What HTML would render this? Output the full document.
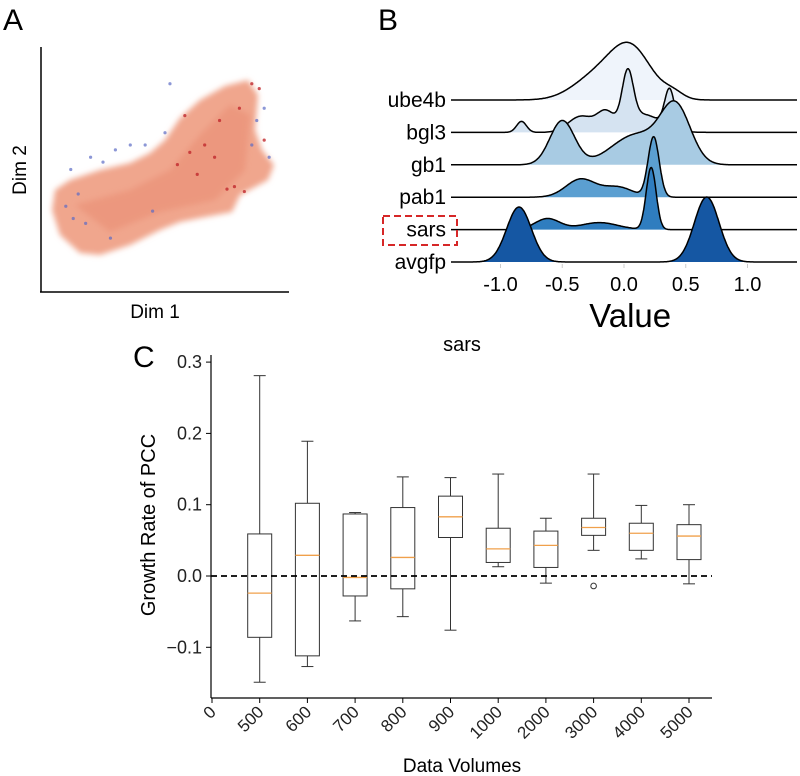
<!DOCTYPE html>
<html><head><meta charset="utf-8"><style>
body{margin:0;background:#fff;}
svg{display:block;font-family:"Liberation Sans",sans-serif;}
</style></head><body>
<svg id="fig" width="800" height="776" viewBox="0 0 800 776">
<defs><filter id="bl" x="-20%" y="-20%" width="140%" height="140%"><feGaussianBlur stdDeviation="3"/></filter></defs>
<g id="panelA">
<text x="3" y="30" font-size="30">A</text>
<path d="M55,190 L70,180 L100,170 L130,163 L150,153 L165,140 L180,118 L200,100 L225,86 L248,80 L258,95 L255,130 L262,150 L274,165 L268,180 L240,195 L232,212 L200,218 L180,222 L160,230 L130,245 L100,255 L80,253 L60,235 L52,210 Z" fill="#f0a68d" filter="url(#bl)"/>
<path d="M75,205 L130,190 L170,170 L200,135 L230,105 L250,115 L245,170 L215,200 L160,212 L110,232 Z" fill="#e98c72" opacity="0.55" filter="url(#bl)"/>
<g id="dots"></g>
<line x1="41" y1="47" x2="41" y2="292" stroke="#000" stroke-width="1.5"/>
<line x1="40" y1="292" x2="289" y2="292" stroke="#000" stroke-width="1.5"/>
<text x="155" y="318" font-size="19" text-anchor="middle">Dim 1</text>
<text transform="translate(26,170) rotate(-90)" font-size="19" text-anchor="middle">Dim 2</text>
</g>
<g id="panelB">
<text x="378" y="30" font-size="30">B</text>
<g id="ridges"></g>
<rect x="383" y="216" width="74" height="29" fill="none" stroke="#d62728" stroke-width="2" stroke-dasharray="7,4"/>
<text x="500" y="0" id="valtitle" font-size="33" text-anchor="middle">Value</text>
</g>
<g id="panelC">
<text x="133" y="367" font-size="30">C</text>
<text x="462" y="351" font-size="20" text-anchor="middle">sars</text>
<g id="boxes"></g>
<text transform="translate(155,525) rotate(-90)" font-size="20" text-anchor="middle">Growth Rate of PCC</text>
<text x="462" y="772" font-size="19" text-anchor="middle">Data Volumes</text>
</g>
</svg>
<script>
const dimRedX=[0.75,0.78,0.82,0.6,0.66,0.7,0.85,0.88,0.58,0.9,0.63,0.72,0.55,0.8];
const dimRedY=[0.42,0.43,0.41,0.57,0.6,0.55,0.85,0.83,0.72,0.62,0.48,0.7,0.52,0.75];
const dimBlueX=[0.12,0.15,0.2,0.25,0.3,0.36,0.42,0.5,0.87,0.9,0.85,0.13,0.28,0.45,0.92,0.52,0.1,0.18];
const dimBlueY=[0.5,0.4,0.55,0.53,0.58,0.6,0.6,0.65,0.7,0.75,0.6,0.3,0.22,0.33,0.55,0.85,0.35,0.28];
const SVGNS="http://www.w3.org/2000/svg";
function mk(tag,attrs,parent){const e=document.createElementNS(SVGNS,tag);for(const k in attrs)e.setAttribute(k,attrs[k]);parent.appendChild(e);return e;}
const ax=v=>41+v*248, ay=v=>292-v*245;
const dots=document.getElementById('dots');
dimRedX.forEach((v,i)=>{const c=mk('circle',{cx:ax(v),cy:ay(dimRedY[i]),r:1.6,fill:'#c0282d',opacity:0.8},dots);

});
dimBlueX.forEach((v,i)=>{const c=mk('circle',{cx:ax(v),cy:ay(dimBlueY[i]),r:1.6,fill:'#5b6bc4',opacity:0.7},dots);

});

const ridgeNames=["ube4b","bgl3","gb1","pab1","sars","avgfp"];
const ridgeColors=["#eff4fb","#d5e3f1","#a8cbe3","#5b9fd1","#2f7dbf","#1557a3"];
const ridgeMeans=[[0.05,-0.25,0.4],[-0.83,-0.35,-0.15,0.03,0.15,0.37],[-0.5,0.1,0.42],[-0.35,-0.05,0.24],[-0.62,-0.2,0.22],[-0.85,0.67]];
const ridgeSds=[[0.17,0.18,0.08],[0.04,0.1,0.07,0.045,0.15,0.04],[0.1,0.2,0.12],[0.12,0.12,0.045],[0.1,0.15,0.04],[0.1,0.1]];
const ridgeHeights=[[52,20,6],[11,16,18,50,18,38],[44,30,55],[18,10,60],[11,7,62],[55,65]];
const valueTicks=[-1.0,-0.5,0.0,0.5,1.0];
const bx=v=>624+v*123.5;
const base0=100, gap=32.4;
const ridges=document.getElementById('ridges');
for(let i=0;i<ridgeNames.length;i++){
  const b=base0+i*gap;
  const dens=v=>{let s=0;for(let j=0;j<ridgeMeans[i].length;j++){const z=(v-ridgeMeans[i][j])/ridgeSds[i][j];s+=ridgeHeights[i][j]*Math.exp(-0.5*z*z);}return s;};
  let pts=[];for(let v=-1.4;v<=1.405;v+=0.005){pts.push([bx(v),b-dens(v)]);}
  const fpts=pts.filter(p=>b-p[1]>0.3);
  const fill=mk('path',{d:'M'+fpts[0][0]+','+b+' '+fpts.map(p=>'L'+p[0].toFixed(1)+','+p[1].toFixed(1)).join(' ')+' L'+fpts[fpts.length-1][0]+','+b+'Z',fill:ridgeColors[i]},ridges);
  
  
  const line=mk('path',{d:'M451,'+b+' '+pts.filter(p=>p[0]>=451&&p[0]<=797).map(p=>'L'+p[0].toFixed(1)+','+p[1].toFixed(1)).join(' ')+' L797,'+b,fill:'none',stroke:'#000','stroke-width':1.5},ridges);
  
  
  const t=mk('text',{x:446,y:b+7,'font-size':21,'text-anchor':'end'},ridges);t.textContent=ridgeNames[i];
  
  
}
valueTicks.forEach(v=>{
  const l=mk('line',{x1:bx(v),x2:bx(v),y1:264,y2:268,stroke:'#ccc'},ridges);
  
  
  const t=mk('text',{x:bx(v),y:291,'font-size':20,'text-anchor':'middle'},ridges);t.textContent=v.toFixed(1);
  
  
});
document.getElementById('valtitle').setAttribute('x',bx(0.05));
document.getElementById('valtitle').setAttribute('y',327);

const xCats=["0","500","600","700","800","900","1000","2000","3000","4000","5000"];
const whiskHi=[0.281,0.189,0.089,0.139,0.138,0.143,0.081,0.143,0.099,0.100];
const q3=[0.059,0.102,0.087,0.096,0.112,0.067,0.063,0.081,0.074,0.072];
const med=[-0.024,0.029,-0.002,0.026,0.083,0.038,0.043,0.068,0.060,0.056];
const q1=[-0.086,-0.112,-0.028,-0.018,0.054,0.019,0.012,0.057,0.036,0.023];
const whiskLo=[-0.149,-0.127,-0.063,-0.057,-0.076,0.013,-0.010,0.036,0.024,-0.011];
const outlierCat=[8];
const outlierVal=[-0.014];
const yTicks=[-0.1,0.0,0.1,0.2,0.3];
const yTickLabels=["\u22120.1","0.0","0.1","0.2","0.3"];
const X0=212, DX=47.7, Y0=576, PY=713;
const cx=i=>X0+i*DX;
const cy=v=>Y0-v*PY;
const g=document.getElementById('boxes');
let e;
e=mk('line',{x1:211,y1:cy(0.31),x2:211,y2:698,stroke:'#000','stroke-width':1.2},g);


e=mk('line',{x1:211,y1:698,x2:712,y2:698,stroke:'#000','stroke-width':1.2},g);


yTicks.forEach((v,i)=>{
  const l=mk('line',{x1:206,x2:211,y1:cy(v),y2:cy(v),stroke:'#000'},g);
  
  
  const t=mk('text',{x:202,y:cy(v)+6,'font-size':18,'text-anchor':'end',fill:'#222'},g);t.textContent=yTickLabels[i];
  
  
});
xCats.forEach((c,i)=>{
  const x=cx(i);
  const l=mk('line',{x1:x,x2:x,y1:698,y2:703,stroke:'#000'},g);
  
  
  const t=mk('text',{transform:'translate('+(x+5)+',713) rotate(-45)','font-size':17,'text-anchor':'end',fill:'#222'},g);t.textContent=c;
  
  
});
for(let k=0;k<q3.length;k++){
  const x=cx(k+1), w=12;
  const grp=mk('g',{},g);
  
  
  mk('line',{x1:x,x2:x,y1:cy(whiskHi[k]),y2:cy(q3[k]),stroke:'#333'},grp);
  mk('line',{x1:x,x2:x,y1:cy(q1[k]),y2:cy(whiskLo[k]),stroke:'#333'},grp);
  mk('line',{x1:x-6,x2:x+6,y1:cy(whiskHi[k]),y2:cy(whiskHi[k]),stroke:'#333'},grp);
  mk('line',{x1:x-6,x2:x+6,y1:cy(whiskLo[k]),y2:cy(whiskLo[k]),stroke:'#333'},grp);
  mk('rect',{x:x-w,y:cy(q3[k]),width:2*w,height:cy(q1[k])-cy(q3[k]),fill:'none',stroke:'#333'},grp);
  mk('line',{x1:x-w,x2:x+w,y1:cy(med[k]),y2:cy(med[k]),stroke:'#f0a04b','stroke-width':1.3},grp);
}
outlierCat.forEach((c,i)=>{
  const o=mk('circle',{cx:cx(c),cy:cy(outlierVal[i]),r:2.8,fill:'none',stroke:'#333'},g);
  
  
});
e=mk('line',{x1:211,x2:712,y1:cy(0),y2:cy(0),stroke:'#000','stroke-width':1.8,'stroke-dasharray':'6,4'},g);


</script>
</body></html>
